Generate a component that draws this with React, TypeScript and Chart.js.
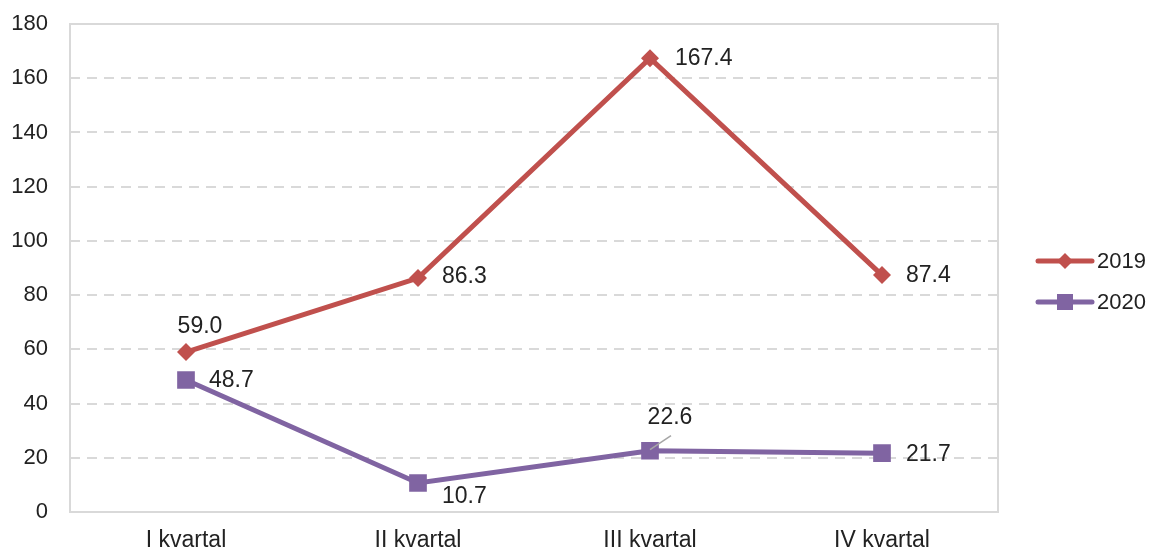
import React, { useEffect, useRef } from "react";
import { Chart, registerables } from "chart.js";

Chart.register(...registerables);

const categories = ["I kvartal", "II kvartal", "III kvartal", "IV kvartal"];
const series2019 = [59.0, 86.3, 167.4, 87.4];
const series2020 = [48.7, 10.7, 22.6, 21.7];
const yTicks = [0, 20, 40, 60, 80, 100, 120, 140, 160, 180];

const RED = "#C0504D";
const PURPLE = "#8064A2";
const TEXT = "#222222";
const FONT = "'Liberation Sans', Arial, sans-serif";

// label offsets (style, not data): [dx, dy, align]
const labelOffsets2019: [number, number, CanvasTextAlign][] = [
  [14, -25, "center"],
  [24, -1, "left"],
  [25, 0, "left"],
  [24, 1, "left"],
];
const labelOffsets2020: [number, number, CanvasTextAlign][] = [
  [23, 1, "left"],
  [24, 14, "left"],
  [20, -33, "center"],
  [24, 1, "left"],
];

const customPlugin = {
  id: "custom",
  beforeDatasetsDraw(chart: any) {
    const { ctx, chartArea } = chart;
    ctx.save();
    ctx.strokeStyle = "#D9D9D9";
    ctx.lineWidth = 2;
    ctx.strokeRect(chartArea.left, chartArea.top, chartArea.right - chartArea.left, chartArea.bottom - chartArea.top);
    ctx.restore();
  },
  afterDatasetsDraw(chart: any) {
    const { ctx } = chart;
    ctx.save();
    // leader line for 22.6
    const p = chart.getDatasetMeta(1).data[2];
    ctx.strokeStyle = "#A6A6A6";
    ctx.lineWidth = 1.5;
    ctx.beginPath();
    ctx.moveTo(p.x, p.y - 1);
    ctx.lineTo(p.x + 21, p.y - 15);
    ctx.stroke();

    ctx.font = `23px ${FONT}`;
    ctx.fillStyle = TEXT;
    ctx.textBaseline = "middle";
    const offs = [labelOffsets2019, labelOffsets2020];
    chart.data.datasets.forEach((ds: any, di: number) => {
      const meta = chart.getDatasetMeta(di);
      meta.data.forEach((pt: any, i: number) => {
        const [dx, dy, align] = offs[di][i];
        ctx.textAlign = align;
        ctx.fillText(Number(ds.data[i]).toFixed(1), pt.x + dx, pt.y + dy);
      });
    });

    // legend
    const items = [
      { label: "2019", color: RED, style: "diamond", y: 261 },
      { label: "2020", color: PURPLE, style: "square", y: 302 },
    ];
    const x0 = chart.chartArea.right + 40;
    items.forEach((it) => {
      ctx.strokeStyle = it.color;
      ctx.fillStyle = it.color;
      ctx.lineWidth = 5;
      ctx.lineCap = "round";
      ctx.beginPath();
      ctx.moveTo(x0, it.y);
      ctx.lineTo(x0 + 54, it.y);
      ctx.stroke();
      const cx = x0 + 27;
      ctx.beginPath();
      if (it.style === "diamond") {
        const r = 8;
        ctx.moveTo(cx, it.y - r);
        ctx.lineTo(cx + r, it.y);
        ctx.lineTo(cx, it.y + r);
        ctx.lineTo(cx - r, it.y);
        ctx.closePath();
      } else {
        ctx.rect(cx - 8, it.y - 8, 16, 16);
      }
      ctx.fill();
      ctx.fillStyle = TEXT;
      ctx.textAlign = "left";
      ctx.font = `22px ${FONT}`;
      ctx.fillText(it.label, x0 + 59, it.y + 1);
    });
    ctx.restore();
  },
};

export default function App() {
  const ref = useRef<HTMLCanvasElement>(null);
  useEffect(() => {
    document.body.style.margin = "0";
    const chart = new Chart(ref.current!, {
      type: "line",
      data: {
        labels: categories,
        datasets: [
          {
            label: "2019",
            data: series2019,
            borderColor: RED,
            backgroundColor: RED,
            borderWidth: 5,
            pointStyle: "rectRot",
            pointRadius: 9,
            pointHoverRadius: 9,
            pointBorderWidth: 0,
            tension: 0,
          },
          {
            label: "2020",
            data: series2020,
            borderColor: PURPLE,
            backgroundColor: PURPLE,
            borderWidth: 5,
            pointStyle: "rect",
            pointRadius: 12.5,
            pointHoverRadius: 12.5,
            pointBorderWidth: 0,
            tension: 0,
          },
        ],
      },
      options: {
        animation: false,
        responsive: false,
        maintainAspectRatio: false,
        layout: { padding: { top: 24, right: 153, left: 0, bottom: 0 } },
        plugins: { legend: { display: false }, tooltip: { enabled: false } },
        scales: {
          x: {
            offset: true,
            grid: { display: false, drawTicks: false },
            border: { display: false },
            ticks: { color: TEXT, font: { family: FONT, size: 23 }, padding: 15 },
            afterFit: (s: any) => {
              s.height = 38;
              s.paddingLeft = 0; s.paddingRight = 0; s.paddingTop = 0; s.paddingBottom = 0;
            },
          },
          y: {
            min: 0,
            max: 180,
            afterBuildTicks: (s: any) => { s.ticks = yTicks.map((v) => ({ value: v })); },
            grid: {
              color: (c: any) => (c.tick && (c.tick.value === 0 || c.tick.value === 180) ? "rgba(0,0,0,0)" : "#D9D9D9"),
              lineWidth: 2,
              drawTicks: false,
            },
            border: { display: false, dash: [10, 7] },
            ticks: { color: TEXT, font: { family: FONT, size: 22 }, padding: 22 },
            afterFit: (s: any) => {
              s.width = 70;
              s.paddingLeft = 0; s.paddingRight = 0; s.paddingTop = 0; s.paddingBottom = 0;
            },
          },
        },
      },
      plugins: [customPlugin],
    });
    return () => chart.destroy();
  }, []);
  return <canvas ref={ref} width={1151} height={550} style={{ display: "block" }} />;
}
